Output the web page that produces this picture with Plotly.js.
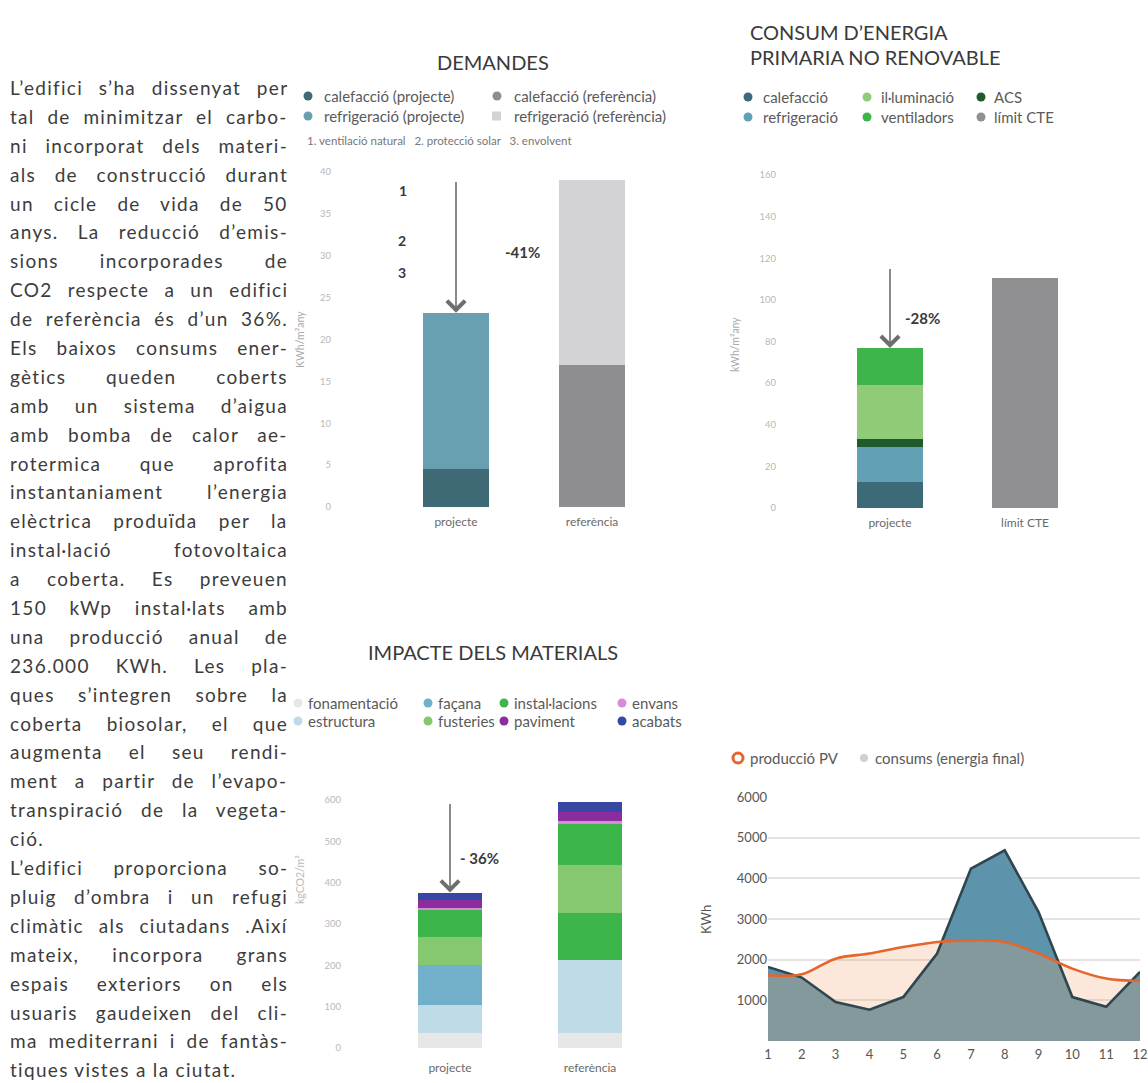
<!DOCTYPE html>
<html><head><meta charset="utf-8">
<script src="https://cdn.plot.ly/plotly-3.0.1.min.js"></script>
<style>
body{margin:0;background:#fff;}
#wrap{position:relative;width:1148px;height:1083px;overflow:hidden;background:#fff;}
#chart{position:absolute;left:0;top:0;width:1148px;height:1083px;}
#bodytext{position:absolute;left:10px;top:74px;width:278px;font-family:Lato,'Open Sans',sans-serif;font-size:19px;color:#3c3c3c;}
#bodytext div{height:28.9px;line-height:28.9px;white-space:pre;overflow:visible;}
</style></head>
<body>
<div id="wrap"><div id="chart"></div><div id="bodytext"></div></div>
<script>
// ---------------- DATA ----------------
const bodyLines = [
"L’edifici s’ha dissenyat per","tal de minimitzar el carbo-","ni incorporat dels materi-","als de construcció durant",
"un cicle de vida de 50","anys. La reducció d’emis-","sions incorporades de","CO2 respecte a un edifici",
"de referència és d’un 36%.","Els baixos consums ener-","gètics queden coberts","amb un sistema d’aigua",
"amb bomba de calor ae-","rotermica que aprofita","instantaniament l’energia","elèctrica produïda per la",
"instal·lació fotovoltaica","a coberta. Es preveuen","150 kWp instal·lats amb","una producció anual de",
"236.000 KWh. Les pla-","ques s’integren sobre la","coberta biosolar, el que","augmenta el seu rendi-",
"ment a partir de l’evapo-","transpiració de la vegeta-","ció.","L’edifici proporciona so-",
"pluig d’ombra i un refugi","climàtic als ciutadans .Així","mateix, incorpora grans","espais exteriors on els",
"usuaris gaudeixen del cli-","ma mediterrani i de fantàs-","tiques vistes a la ciutat."
];
const paragraphEnds = [26, 34];

// DEMANDES
const demTitle = "DEMANDES";
const demCategories = ["projecte", "referència"];
const demCalefaccio = [4.5, 17];
const demRefrigeracio = [18.7, 22];
const demLegend = ["calefacció (projecte)", "calefacció (referència)", "refrigeració (projecte)", "refrigeració (referència)"];
const demNote = "1. ventilació natural   2. protecció solar   3. envolvent";
const demSteps = ["1", "2", "3"];
const demTicks = [0, 5, 10, 15, 20, 25, 30, 35, 40];
const demYTitle = "KWh/m²any";

// CONSUM D'ENERGIA PRIMARIA NO RENOVABLE
const conTitle = ["CONSUM D’ENERGIA", "PRIMARIA NO RENOVABLE"];
const conCategories = ["projecte", "límit CTE"];
const conCalefaccio = [12.5, 0];
const conRefrigeracio = [16.8, 0];
const conACS = [3.9, 0];
const conIlluminacio = [25.9, 0];
const conVentiladors = [17.8, 0];
const conLimitCTE = [0, 110.6];
const conLegend = ["calefacció", "il·luminació", "ACS", "refrigeració", "ventiladors", "límit CTE"];
const conTicks = [0, 20, 40, 60, 80, 100, 120, 140, 160];
const conYTitle = "kWh/m²any";

// IMPACTE DELS MATERIALS
const impTitle = "IMPACTE DELS MATERIALS";
const impCategories = ["projecte", "referència"];
const impFonamentacio = [36, 36];
const impEstructura = [68, 176];
const impFacana = [97, 0];
const impInstalacionsBaix = [0, 114];
const impFusteries = [68, 116];
const impInstalacions = [65, 101];
const impEnvans = [5, 5];
const impPaviment = [20, 22];
const impAcabats = [17, 24];
const impLegend = ["fonamentació", "façana", "instal·lacions", "envans", "estructura", "fusteries", "paviment", "acabats"];
const impTicks = [0, 100, 200, 300, 400, 500, 600];
const impYTitle = "kgCO2/m²";

// PRODUCCIÓ PV vs CONSUMS
const pvMonths = [1, 2, 3, 4, 5, 6, 7, 8, 9, 10, 11, 12];
const pvProduccio = [1615, 1640, 2025, 2150, 2310, 2435, 2475, 2435, 2150, 1780, 1535, 1475];
const pvConsums = [1820, 1560, 960, 770, 1080, 2150, 4240, 4690, 3170, 1080, 840, 1700];
const pvLegend = ["producció PV", "consums (energia final)"];
const pvTicks = [1000, 2000, 3000, 4000, 5000, 6000];
const pvYTitle = "KWh";

const reductionLabels = ["-41%", "-28%", "- 36%"];

// ---------------- BODY TEXT (justified lines) ----------------
const BODY_W = 278, LS = 1.3;
const bt = document.getElementById('bodytext');
const mctx = document.createElement('canvas').getContext('2d');
mctx.font = "19px Lato";
bodyLines.forEach((l, i) => {
  const d = document.createElement('div');
  d.textContent = l;
  const w = mctx.measureText(l).width;
  const n = l.length;
  const spaces = (l.match(/ /g) || []).length;
  let ls = Math.min(LS, (BODY_W - w) / n);
  d.style.letterSpacing = ls + 'px';
  if (!paragraphEnds.includes(i) && spaces > 0) {
    const rest = BODY_W - (w + ls * n);
    if (rest > 0) d.style.wordSpacing = (rest / spaces) + 'px';
  }
  bt.appendChild(d);
});

// ---------------- LAYOUT HELPERS ----------------
const W = 1148, H = 1083;
const fx = p => p / W;
const fy = p => 1 - p / H;
const FONT = "Lato, 'Open Sans', sans-serif";
const sum = arrs => arrs[0].map((_, i) => arrs.reduce((s, a) => s + a[i], 0));
function catRange(left, right, c0, sp) { return [(left - c0) / sp, (right - c0) / sp]; }

const C = {
  demCalP: '#3e6a75', demRefP: '#68a0b2', demCalR: '#8e8e90', demRefR: '#d3d3d5',
  conCal: '#3c6a78', conRef: '#62a0b5', conACS: '#1f5a2e', conIll: '#90cb7a', conVen: '#3db54b', conLim: '#909092',
  impFon: '#e7e7e7', impEst: '#c0dbe8', impFac: '#72afca', impFus: '#86c86f', impIns: '#3cb54b',
  impEnv: '#d98bd6', impPav: '#8b2c9f', impAca: '#3648a2',
  pvFill: '#5d93ab', pvLine: '#2f4650', pvOrange: '#e4662c'
};

const traces = [];
function bar(x, y, colors, xa, ya, width) {
  traces.push({type: 'bar', x: x, y: y, xaxis: xa, yaxis: ya, width: width,
    marker: {color: colors, line: {width: 0}}, showlegend: false, hoverinfo: 'skip'});
}
// DEMANDES
bar(demCategories, demCalefaccio, [C.demCalP, C.demCalR], 'x', 'y', 0.49);
bar(demCategories, demRefrigeracio, [C.demRefP, C.demRefR], 'x', 'y', 0.49);
// CONSUM
bar(conCategories, conCalefaccio, C.conCal, 'x2', 'y2', 0.49);
bar(conCategories, conRefrigeracio, C.conRef, 'x2', 'y2', 0.49);
bar(conCategories, conACS, C.conACS, 'x2', 'y2', 0.49);
bar(conCategories, conIlluminacio, C.conIll, 'x2', 'y2', 0.49);
bar(conCategories, conVentiladors, C.conVen, 'x2', 'y2', 0.49);
bar(conCategories, conLimitCTE, C.conLim, 'x2', 'y2', 0.49);
// IMPACTE
bar(impCategories, impFonamentacio, C.impFon, 'x3', 'y3', 0.46);
bar(impCategories, impEstructura, C.impEst, 'x3', 'y3', 0.46);
bar(impCategories, impFacana, C.impFac, 'x3', 'y3', 0.46);
bar(impCategories, impInstalacionsBaix, C.impIns, 'x3', 'y3', 0.46);
bar(impCategories, impFusteries, C.impFus, 'x3', 'y3', 0.46);
bar(impCategories, impInstalacions, C.impIns, 'x3', 'y3', 0.46);
bar(impCategories, impEnvans, C.impEnv, 'x3', 'y3', 0.46);
bar(impCategories, impPaviment, C.impPav, 'x3', 'y3', 0.46);
bar(impCategories, impAcabats, C.impAca, 'x3', 'y3', 0.46);
// PV
traces.push({type: 'scatter', mode: 'lines', x: pvMonths, y: pvConsums, xaxis: 'x4', yaxis: 'y4',
  fill: 'tozeroy', fillcolor: C.pvFill, line: {width: 0, color: C.pvFill}, showlegend: false, hoverinfo: 'skip'});
traces.push({type: 'scatter', mode: 'lines', x: pvMonths, y: pvProduccio, xaxis: 'x4', yaxis: 'y4',
  fill: 'tozeroy', fillcolor: 'rgba(240,170,120,0.27)', line: {width: 0, shape: 'spline', color: 'rgba(0,0,0,0)'}, showlegend: false, hoverinfo: 'skip'});
traces.push({type: 'scatter', mode: 'lines', x: pvMonths, y: pvConsums, xaxis: 'x4', yaxis: 'y4',
  line: {width: 2.6, color: C.pvLine}, showlegend: false, hoverinfo: 'skip'});
traces.push({type: 'scatter', mode: 'lines', x: pvMonths, y: pvProduccio, xaxis: 'x4', yaxis: 'y4',
  line: {width: 2.6, color: C.pvOrange, shape: 'spline', smoothing: 1}, showlegend: false, hoverinfo: 'skip'});

const faintTick = {family: FONT, size: 9.5, color: '#b8b8b8'};
const catTick = {family: FONT, size: 12, color: '#6a6a6a'};
function catAxis(dom, rng, standoff) {
  return {domain: dom, range: rng, type: 'category', showgrid: false, zeroline: false, showline: false,
    ticks: '', tickfont: catTick, ticklabelstandoff: standoff, fixedrange: true};
}
function valAxis(dom, rng, anchor, ticks, font) {
  return {domain: dom, range: rng, anchor: anchor, tickvals: ticks, showgrid: false, zeroline: false,
    showline: false, ticks: '', tickfont: font, fixedrange: true};
}

const layout = {
  width: W, height: H, margin: {l: 0, r: 0, t: 0, b: 0}, paper_bgcolor: '#fff', plot_bgcolor: 'rgba(0,0,0,0)',
  barmode: 'stack', showlegend: false, font: {family: FONT, color: '#444'},
  xaxis: Object.assign(catAxis([fx(332), fx(660)], catRange(332, 660, 456, 136), 6), {anchor: 'y'}),
  yaxis: valAxis([fy(507), fy(172)], [0, 40], 'x', demTicks, faintTick),
  xaxis2: Object.assign(catAxis([fx(777), fx(1100)], catRange(777, 1100, 890, 135), 6), {anchor: 'y2'}),
  yaxis2: valAxis([fy(508), fy(175)], [0, 160], 'x2', conTicks, faintTick),
  xaxis3: Object.assign(catAxis([fx(342), fx(660)], catRange(342, 660, 450, 140), 11), {anchor: 'y3'}),
  yaxis3: valAxis([fy(1048), fy(800)], [0, 600], 'x3', impTicks, faintTick),
  xaxis4: {domain: [fx(768), fx(1140)], range: [1, 12], anchor: 'y4', tickvals: pvMonths, showgrid: false,
    zeroline: false, showline: false, ticks: '', ticklabelstandoff: 4, tickfont: {family: FONT, size: 13, color: '#555'}, fixedrange: true},
  yaxis4: {domain: [fy(1041), fy(797)], range: [0, 6000], anchor: 'x4', tickvals: pvTicks, showgrid: true,
    gridcolor: '#e4e2e2', gridwidth: 2, zeroline: false, showline: false, ticks: '',
    tickfont: {family: FONT, size: 13, color: '#555'}, fixedrange: true},
  annotations: [], shapes: []
};
const A = layout.annotations, S = layout.shapes;
const legFont = {family: FONT, size: 15, color: '#5a5a5a'};
function txt(x, y, t, o) {
  A.push(Object.assign({xref: 'paper', yref: 'paper', x: fx(x), y: fy(y), text: t, showarrow: false,
    xanchor: 'left', yanchor: 'middle', font: legFont}, o || {}));
}
function dot(cx, cy, color, r, ring) {
  r = r || 4.5;
  S.push({type: 'circle', xref: 'paper', yref: 'paper', x0: fx(cx - r), x1: fx(cx + r), y0: fy(cy + r), y1: fy(cy - r),
    fillcolor: ring ? '#fff' : color, line: {color: color, width: ring ? 3 : 0}});
}
const titleFont = {family: FONT, size: 20, color: '#3a3a3a'};

// DEMANDES texts
txt(493, 62, demTitle, {xanchor: 'center', font: titleFont});
dot(308, 96, C.demCalP); txt(322, 96, demLegend[0]);
dot(497, 96, C.demCalR); txt(512, 96, demLegend[1]);
dot(308, 116, C.demRefP); txt(322, 116, demLegend[2]);
S.push({type: 'rect', xref: 'paper', yref: 'paper', x0: fx(492), x1: fx(501), y0: fy(120.5), y1: fy(111.5), fillcolor: C.demRefR, line: {width: 0}});
txt(512, 116, demLegend[3]);
txt(305, 140, demNote, {font: {family: FONT, size: 11.5, color: '#777'}});
const stepFont = {family: FONT, size: 14, color: '#3a3a3a', weight: 'bold'};
txt(403, 190, demSteps[0], {xanchor: 'center', font: stepFont});
txt(402, 241, demSteps[1], {xanchor: 'center', font: stepFont});
txt(402, 272, demSteps[2], {xanchor: 'center', font: stepFont});
txt(300, 340, demYTitle, {xanchor: 'center', textangle: -90, font: {family: FONT, size: 10.5, color: '#aaa'}});

// CONSUM texts
txt(748, 32, conTitle[0], {font: titleFont});
txt(748, 57, conTitle[1], {font: titleFont});
dot(748, 97, C.conCal); txt(761, 97, conLegend[0]);
dot(867, 97, C.conIll); txt(879, 97, conLegend[1]);
dot(981, 97, C.conACS); txt(992, 97, conLegend[2]);
dot(748, 117, C.conRef); txt(761, 117, conLegend[3]);
dot(867, 117, C.conVen); txt(879, 117, conLegend[4]);
dot(981, 117, C.conLim); txt(992, 117, conLegend[5]);
txt(735, 345, conYTitle, {xanchor: 'center', textangle: -90, font: {family: FONT, size: 10.5, color: '#aaa'}});

// IMPACTE texts
txt(493, 652, impTitle, {xanchor: 'center', font: titleFont});
const impColors = [C.impFon, C.impFac, C.impIns, C.impEnv, C.impEst, C.impFus, C.impPav, C.impAca];
const colX = [298, 428, 504, 622];
impLegend.forEach((l, i) => {
  const cx = colX[i % 4], cy = i < 4 ? 703 : 721;
  dot(cx, cy, impColors[i]); txt(cx + 8, cy, l);
});
txt(300, 880, impYTitle, {xanchor: 'center', textangle: -90, font: {family: FONT, size: 10.5, color: '#bbb'}});

// PV texts
dot(738, 758, C.pvOrange, 5, true); txt(748, 758, pvLegend[0]);
dot(864, 758, '#d0d0d0', 4); txt(873, 758, pvLegend[1]);
txt(706, 920, pvYTitle, {xanchor: 'center', textangle: -90, font: {family: FONT, size: 13, color: '#555'}});

// Reduction arrows (from reference total down to project total)
const demTot = sum([demCalefaccio, demRefrigeracio]);
const conTot = sum([conCalefaccio, conRefrigeracio, conACS, conIlluminacio, conVentiladors, conLimitCTE]);
const impTot = sum([impFonamentacio, impEstructura, impFacana, impInstalacionsBaix, impFusteries, impInstalacions, impEnvans, impPaviment, impAcabats]);
function arrow(xa, ya, top, tip) {
  A.push({xref: xa, yref: ya, x: 0, y: tip, axref: xa, ayref: ya, ax: 0, ay: top, text: '', showarrow: true,
    arrowhead: 4, arrowsize: 2.2, arrowwidth: 1.6, arrowcolor: '#6e6e6e', standoff: 0});
}
arrow('x', 'y', demTot[1], demTot[0]);
arrow('x2', 'y2', conTot[1] + 5, conTot[0]);
arrow('x3', 'y3', impTot[1], impTot[0]);
const pctFont = {family: FONT, size: 15, color: '#3a3a3a', weight: 'bold'};
txt(503, 252, reductionLabels[0], {font: pctFont});
txt(903, 318, reductionLabels[1], {font: pctFont});
txt(458, 858, reductionLabels[2], {font: pctFont});

Plotly.newPlot('chart', traces, layout, {displayModeBar: false, staticPlot: true});
</script>
</body></html>
